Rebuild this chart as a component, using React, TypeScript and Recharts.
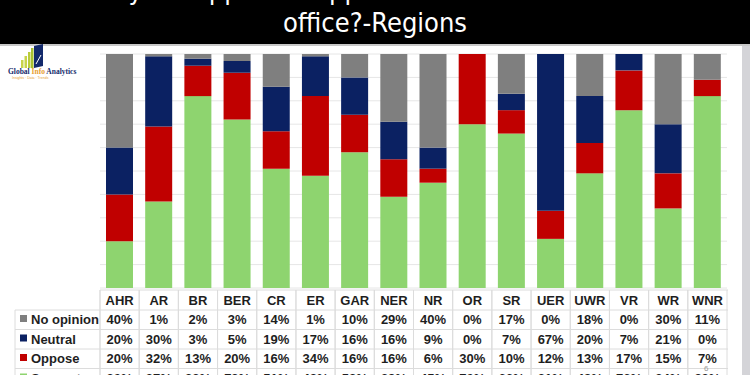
import React from "react";
import { BarChart, Bar, XAxis, YAxis, CartesianGrid } from "recharts";

const regions = ["AHR", "AR", "BR", "BER", "CR", "ER", "GAR", "NER", "NR", "OR", "SR", "UER", "UWR", "VR", "WR", "WNR"];
const noOpinion = [40, 1, 2, 3, 14, 1, 10, 29, 40, 0, 17, 0, 18, 0, 30, 11];
const neutral = [20, 30, 3, 5, 19, 17, 16, 16, 9, 0, 7, 67, 20, 7, 21, 0];
const oppose = [20, 32, 13, 20, 16, 34, 16, 16, 6, 30, 10, 12, 13, 17, 15, 7];
const support = [20, 37, 82, 72, 51, 48, 58, 39, 45, 70, 66, 21, 49, 76, 34, 82];
const yTicks = [0, 10, 20, 30, 40, 50, 60, 70, 80, 90, 100];

const COLORS = {
  noOpinion: "#7f7f7f",
  neutral: "#0b2162",
  oppose: "#c00000",
  support: "#8ed46f",
};

// table rows, top to bottom, as in the reference
const rows = [
  { label: "No opinion", values: noOpinion, color: COLORS.noOpinion },
  { label: "Neutral", values: neutral, color: COLORS.neutral },
  { label: "Oppose", values: oppose, color: COLORS.oppose },
  { label: "Support", values: support, color: COLORS.support },
];

const data = regions.map((r, i) => ({
  region: r,
  support: support[i],
  oppose: oppose[i],
  neutral: neutral[i],
  noOpinion: noOpinion[i],
}));

const FONT = "'Liberation Sans', Arial, sans-serif";
const LINE = "#dcdcdc";
const HEADER_TOP = 290;
const ROW_LINES = [310, 329.5, 349, 368.5, 388];
const HALF_COL = 19.6;

function TableTick(props: any) {
  const { x, payload } = props;
  const i = regions.indexOf(payload.value);
  return (
    <g>
      <line x1={x - HALF_COL} x2={x - HALF_COL} y1={HEADER_TOP} y2={388} stroke={LINE} />
      <line x1={x + HALF_COL} x2={x + HALF_COL} y1={HEADER_TOP} y2={388} stroke={LINE} />
      <text x={x} y={305} textAnchor="middle" fontFamily={FONT} fontWeight="bold" fontSize={13} fill="#1e1e1e">
        {payload.value}
      </text>
      {rows.map((row, r) => (
        <text
          key={row.label}
          x={x}
          y={ROW_LINES[r] + 14}
          textAnchor="middle"
          fontFamily={FONT}
          fontWeight="bold"
          fontSize={13}
          fill="#1e1e1e"
        >
          {row.values[i]}%
        </text>
      ))}
    </g>
  );
}

function Overlay() {
  return (
    <svg width={750} height={375} style={{ position: "absolute", left: 0, top: 0, pointerEvents: "none" }}>
      {/* title band */}
      <rect x={0} y={0} width={750} height={44} fill="#000" />
      <text x={375} y={-1} textAnchor="middle" fill="#fff" fontSize={27} fontFamily="'Liberation Sans Narrow', 'DejaVu Sans Condensed', sans-serif">
        Would you support or oppose the President's return to
      </text>
      <text x={375} y={32} textAnchor="middle" fill="#fff" fontSize={27} fontFamily="'Liberation Sans Narrow', 'DejaVu Sans Condensed', sans-serif">
        office?-Regions
      </text>
      <line x1={0} x2={750} y1={45} y2={45} stroke="#c8c8c8" strokeWidth={2} />
      {/* right edge */}
      <rect x={742} y={46} width={8} height={329} fill="#d4d4d8" />

      {/* logo */}
      <rect x={21} y={60} width={2.5} height={8} fill="#c8d44a" />
      <rect x={24.5} y={56} width={2.5} height={12} fill="#c8d44a" />
      <rect x={28} y={52} width={2.5} height={16} fill="#b9cc3a" />
      <rect x={31} y={48} width={2.5} height={20} fill="#a8c030" />
      <path d="M34 46 L43 44 L43 66 L34 68 Z" fill="#13296b" />
      <line x1={36} y1={64} x2={41} y2={55} stroke="#fff" strokeWidth={1} />
      <text x={8} y={74} fontSize={7.5} fontFamily="'Liberation Serif', serif" fontWeight="bold" fill="#13296b">
        Global <tspan fill="#e8a030">Info</tspan> Analytics
      </text>
      <text x={12} y={79} fontSize={3.5} fontFamily={FONT} fill="#e8a030">
        Insights · Data · Trends
      </text>

      {/* legend column of the table */}
      <line x1={100} x2={100} y1={HEADER_TOP} y2={388} stroke={LINE} />
      <line x1={15} x2={15} y1={310} y2={388} stroke={LINE} />
      <line x1={100} x2={728} y1={HEADER_TOP} y2={HEADER_TOP} stroke={LINE} />
      {ROW_LINES.map((y) => (
        <line key={y} x1={15} x2={728} y1={y} y2={y} stroke={LINE} />
      ))}
      {rows.map((row, r) => (
        <g key={row.label}>
          <rect x={20} y={ROW_LINES[r] + 5} width={7} height={7} fill={row.color} />
          <text x={31} y={ROW_LINES[r] + 14} fontFamily={FONT} fontWeight="bold" fontSize={13} fill="#1e1e1e">
            {row.label}
          </text>
        </g>
      ))}
      <text x={704} y={371} fontSize={8} fontFamily={FONT} fill="#999">
        6
      </text>
    </svg>
  );
}

export default function App() {
  return (
    <div
      style={{
        position: "fixed",
        left: 0,
        top: 0,
        width: 750,
        height: 375,
        overflow: "hidden",
        background: "#fff",
      }}
    >
      <BarChart
        width={750}
        height={375}
        data={data}
        margin={{ top: 54, right: 23, left: 100, bottom: 0 }}
        barSize={27}
      >
        <CartesianGrid vertical={false} stroke="#e6e6e6" />
        <YAxis hide domain={[0, 100]} ticks={yTicks} />
        <XAxis
          dataKey="region"
          height={87}
          axisLine={false}
          tickLine={false}
          interval={0}
          tick={<TableTick />}
        />
        <Bar dataKey="support" stackId="a" fill={COLORS.support} isAnimationActive={false} />
        <Bar dataKey="oppose" stackId="a" fill={COLORS.oppose} isAnimationActive={false} />
        <Bar dataKey="neutral" stackId="a" fill={COLORS.neutral} isAnimationActive={false} />
        <Bar dataKey="noOpinion" stackId="a" fill={COLORS.noOpinion} isAnimationActive={false} />
      </BarChart>
      <Overlay />
    </div>
  );
}
